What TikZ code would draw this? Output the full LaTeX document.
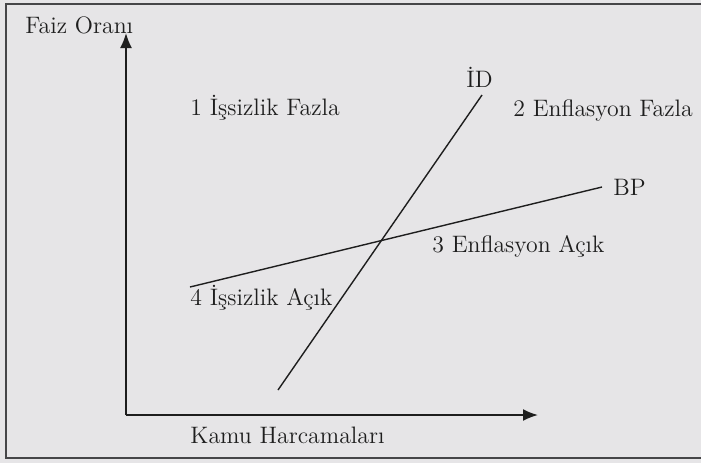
\documentclass[tikz,border=0pt]{standalone}
\usepackage{fontspec}
\usepackage{tikz}
\usetikzlibrary{positioning, arrows.meta, calc}
\definecolor{paper}{RGB}{230, 229, 231}
\definecolor{ink}{RGB}{30, 30, 30}
\definecolor{frame}{RGB}{70, 70, 72}

\tikzset{
    lbl/.style={anchor=base west, inner sep=0pt, text=ink, font=\fontsize{11.9}{14}\selectfont},
    curve/.style={ink, line width=0.7pt},
    axis/.style={ink, line width=0.9pt, -{Latex[length=7.5pt, width=6pt]}}
}

\begin{document}
\begin{tikzpicture}[x=0.5pt, y=-0.5pt]
    % paper and frame
    \fill[paper] (0,0) rectangle (701,463);
    \useasboundingbox (0,0) rectangle (701,463);
    \draw[frame, line width=1pt] (701,4) -- (6,4) -- (6,458) -- (701,458);

    % axes
    \coordinate (origin) at (126,415);
    \coordinate (ytop) at (126,33);
    \coordinate (xend) at (538,415);
    \draw[axis] (origin) -- (ytop);
    \draw[axis] (origin) -- (xend);
    \node[lbl] (faiz) at (25,33) {Faiz Oranı};
    \node[lbl] (kamu) at (190,443) {Kamu Harcamaları};

    % schedules
    \coordinate (id-lo) at (278,390);
    \coordinate (id-hi) at (482,95);
    \coordinate (bp-lo) at (190,287);
    \coordinate (bp-hi) at (602,187);
    \draw[curve] (id-lo) -- (id-hi);
    \draw[curve] (bp-lo) -- (bp-hi);
    \node[lbl] (id) at (466,87) {İD};
    \node[lbl] (bp) at (613,195) {BP};

    % zones
    \node[lbl] (z1) at (190,115) {1 İşsizlik Fazla};
    \node[lbl] (z2) at (513,116) {2 Enflasyon Fazla};
    \node[lbl] (z3) at (432,252) {3 Enflasyon Açık};
    \node[lbl] (z4) at (190,305) {4 İşsizlik Açık};
\end{tikzpicture}
\end{document}
